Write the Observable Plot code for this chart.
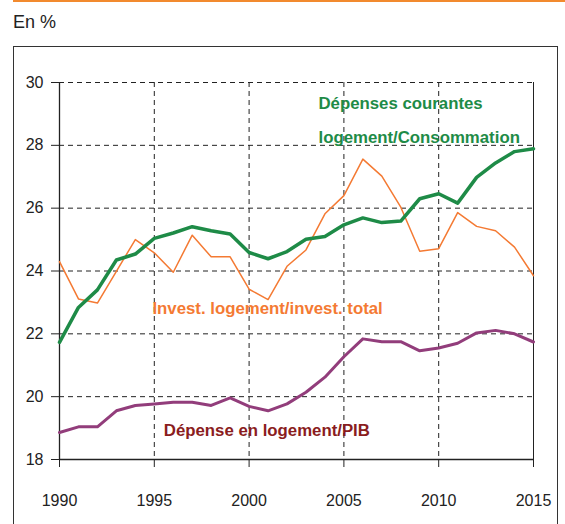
<!DOCTYPE html>
<html><head><meta charset="utf-8">
<script src="https://cdn.jsdelivr.net/npm/d3@7"></script>
<script src="https://cdn.jsdelivr.net/npm/@observablehq/plot@0.6"></script>
<style>
body{margin:0;background:#fff;font-family:"Liberation Sans",Arial,sans-serif;}
#wrap{position:relative;width:565px;height:524px;overflow:hidden;}
#topline{position:absolute;left:13px;top:0;width:552px;height:2px;background:#f28a2e;}
#unit{position:absolute;left:13px;top:12px;font-size:18px;color:#222;}
#frame{position:absolute;left:13px;top:46px;width:543px;height:520px;border:1.5px solid #333;}
#chart{position:absolute;left:0;top:0;}
</style></head><body>
<div id="wrap"><div id="topline"></div><div id="unit">En %</div><div id="frame"></div><div id="chart"></div></div>
<script>
const years = [1990,1991,1992,1993,1994,1995,1996,1997,1998,1999,2000,2001,2002,2003,2004,2005,2006,2007,2008,2009,2010,2011,2012,2013,2014,2015];
const depCourantes = [21.73,22.84,23.4,24.35,24.54,25.04,25.21,25.41,25.28,25.18,24.59,24.39,24.62,25.01,25.1,25.47,25.69,25.54,25.59,26.3,26.46,26.16,26.98,27.44,27.8,27.89];
const investLogement = [24.3,23.11,22.98,23.99,25.0,24.58,23.96,25.14,24.45,24.45,23.42,23.09,24.15,24.67,25.82,26.4,27.56,27.02,26.03,24.63,24.71,25.86,25.42,25.28,24.76,23.85];
const depPIB = [18.86,19.04,19.04,19.55,19.72,19.77,19.82,19.82,19.72,19.96,19.69,19.55,19.77,20.14,20.62,21.27,21.84,21.75,21.75,21.46,21.55,21.7,22.03,22.11,22.0,21.74];
const xTicks = [1990,1995,2000,2005,2010,2015];
const yTicks = [18,20,22,24,26,28,30];
const labelTexts = ["Dépenses courantes","logement/Consommation","Invest. logement/invest. total","Dépense en logement/PIB"];
const labelYears = [2003.66,2003.66,1994.9,1995.5];
const labelValues = [29.33,28.25,22.8,18.92];
const labelColors = ["#1e8b47","#1e8b47","#f47a33","#8a1c20"];

const rows = (vals) => years.map((y,i)=>({year:y, v:vals[i]}));
const labels = labelTexts.map((t,i)=>({text:t, x:labelYears[i], y:labelValues[i], c:labelColors[i]}));
const dash = "5,4";

const chart = Plot.plot({
  width:565, height:524,
  marginLeft:59, marginRight:32, marginTop:82, marginBottom:65,
  style:{fontFamily:"'Liberation Sans', Arial, sans-serif", background:"transparent", color:"#222"},
  x:{domain:[1990,2015]},
  y:{domain:[18,30]},
  marks:[
    Plot.ruleY(yTicks.filter(d=>d>18), {stroke:"#222", strokeDasharray:dash, strokeWidth:1}),
    Plot.ruleX(xTicks.filter(d=>d>1990 && d<2015), {stroke:"#222", strokeDasharray:dash, strokeWidth:1}),
    Plot.ruleX([2015], {stroke:"#222", strokeWidth:1}),
    Plot.ruleX([1990], {stroke:"#222", strokeWidth:1.3}),
    Plot.ruleY([18], {stroke:"#222", strokeWidth:1.3}),
    Plot.axisX({ticks:xTicks, tickSize:8, tickPadding:27, tickFormat:d=>String(d), fontSize:16, label:null, stroke:"#222"}),
    Plot.axisY({ticks:yTicks, tickSize:8, tickPadding:8, fontSize:16, label:null, stroke:"#222"}),
    Plot.line(rows(investLogement), {x:"year", y:"v", stroke:"#f47a33", strokeWidth:1.5}),
    Plot.line(rows(depCourantes), {x:"year", y:"v", stroke:"#1e8b47", strokeWidth:3.5}),
    Plot.line(rows(depPIB), {x:"year", y:"v", stroke:"#923d7b", strokeWidth:3}),
    Plot.text(labels, {x:"x", y:"y", text:"text", fill:"c", textAnchor:"start", fontWeight:"bold", fontSize:16.8})
  ]
});
document.getElementById("chart").appendChild(chart);
</script>
</body></html>
